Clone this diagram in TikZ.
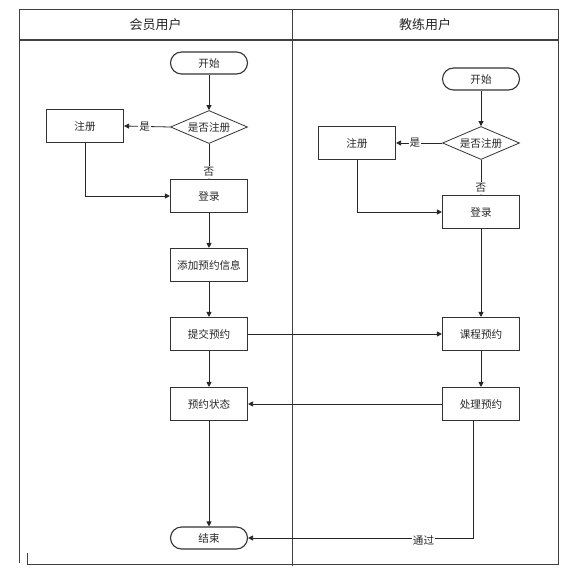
\documentclass[tikz,border=0pt]{standalone}
\usepackage{fontspec}
\setmainfont{Noto Sans CJK SC}
\usetikzlibrary{arrows.meta,shapes.geometric}

\begin{document}
\begin{tikzpicture}[x=1pt,y=-1pt,
 box/.style={draw=black!80,line width=1.1pt,minimum width=77pt,minimum height=33pt,inner sep=2pt,font=\fontsize{10.6}{12}\selectfont},
 term/.style={box,rounded corners=11pt,minimum height=22pt},
 decide/.style={draw=black!80,line width=.8pt,diamond,inner sep=0pt,aspect=2.3,minimum width=77pt,minimum height=33pt,font=\fontsize{10.6}{12}\selectfont},
 lane/.style={draw=black!75,line width=1pt},
 lbl/.style={fill=white,inner sep=1pt,font=\fontsize{10.6}{12}\selectfont},
 >={Triangle[length=5pt,width=5pt]},every path/.style={line width=.8pt,black!85}]
\useasboundingbox (0,0) rectangle (562,577);
% lanes
\draw[lane] (19,563) -- (19,10) -- (558,10) -- (558,564) -- (292,564);
\draw[lane] (292,10) -- (292,566);
\draw[lane] (27,553) -- (27,564) -- (292,564);
\draw[black!75,line width=1.6pt] (19,40) -- (558,40);
\node[font=\fontsize{13}{15}\selectfont] (memhead) at (155.5,25) {会员用户};
\node[font=\fontsize{13}{15}\selectfont] (coachhead) at (425,25) {教练用户};
% member lane
\node[term] (start1) at (209,63) {开始};
\node[decide] (decide1) at (209,127) {是否注册};
\node[box] (reg1) at (85,126) {注册};
\node[box] (login1) at (209,196) {登录};
\node[box] (addinfo) at (209,265) {添加预约信息};
\node[box] (submit) at (209,334) {提交预约};
\node[box] (status) at (209,404) {预约状态};
\node[term] (end1) at (209,538) {结束};
% coach lane
\node[term] (start2) at (481,79) {开始};
\node[decide] (decide2) at (481,143) {是否注册};
\node[box] (reg2) at (357,143) {注册};
\node[box] (login2) at (481,212) {登录};
\node[box] (course) at (481,334) {课程预约};
\node[box] (handle) at (481,404) {处理预约};
% connectors
\draw[->] (start1)--(decide1);
\draw[->] (decide1.west)--node[lbl,pos=.55]{是} (reg1.east);
\draw[->] (decide1.south)--node[lbl,pos=.8]{否} (login1.north);
\draw[->] (reg1.south) |- (login1.west);
\draw[->] (login1)--(addinfo);
\draw[->] (addinfo)--(submit);
\draw[->] (submit)--(status);
\draw[->] (status)--(end1);
\draw[->] (start2)--(decide2);
\draw[->] (decide2.west)--node[lbl,pos=.59]{是} (reg2.east);
\draw[->] (decide2.south)--node[lbl,pos=.8]{否} (login2.north);
\draw[->] (reg2.south) |- (login2.west);
\draw[->] (login2)--(course);
\draw[->] (course)--(handle);
\draw[->] (submit)--(course);
\draw[->] (handle)--(status);
\draw[->] ([xshift=-8pt]handle.south) |- node[lbl,pos=.61,yshift=-2pt]{通过} (end1.east);
\end{tikzpicture}
\end{document}
